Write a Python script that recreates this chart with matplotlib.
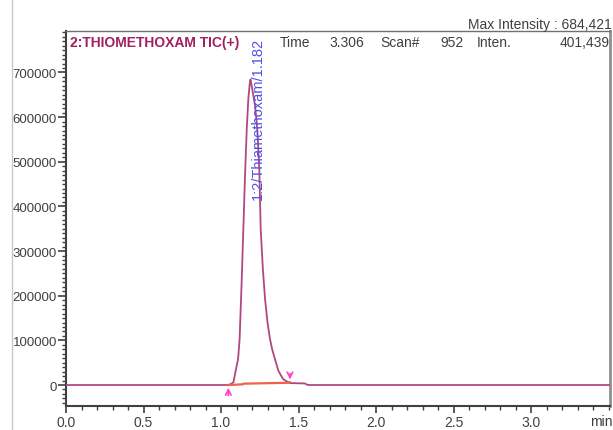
import numpy as np
import matplotlib.pyplot as plt
from matplotlib.lines import Line2D
from matplotlib.ticker import MultipleLocator

plt.rcParams['font.family'] = ['Liberation Sans', 'DejaVu Sans']

# chromatogram trace (min, intensity)
time_min = [0.0, 1.00, 1.045, 1.06, 1.08, 1.097, 1.11, 1.12, 1.133, 1.144, 1.155,
            1.166, 1.176, 1.185, 1.19, 1.198, 1.21, 1.22, 1.234, 1.247, 1.256,
            1.27, 1.284, 1.30, 1.316, 1.33, 1.348, 1.37, 1.40, 1.434, 1.445,
            1.48, 1.54, 1.56, 3.51]
intensity = [0, 0, 0, 1500, 6000, 36000, 58000, 103000, 230000, 349000, 470000,
             573000, 640000, 674000, 684421, 670000, 645000, 625000, 573000, 484000, 349000,
             260000, 193000, 140000, 103000, 80000, 58000, 32000, 13400, 6000, 4500,
             4000, 3500, 0, 0]

# integration baseline and peak marks
base_t = [1.047, 1.14, 1.145, 1.43, 1.445]
base_i = [0, 1500, 3000, 5000, 6000]
peak_start = 1.047
peak_end = 1.445
peak_label = "1:2/Thiamethoxam/1.182"

fig = plt.figure(figsize=(6.13, 4.31), dpi=100)
ax = fig.add_axes([0.1077, 0.0557, 0.8875, 0.8712])

ax.plot(time_min, intensity, color='#b04880', lw=1.3, zorder=3)
ax.plot(base_t, base_i, color='#f0604a', lw=1.6, zorder=4)

ax.annotate('', xy=(peak_start, 0), xytext=(peak_start, -30000),
            arrowprops=dict(arrowstyle='->', color='#ff40c8', lw=1.2), zorder=5)
ax.annotate('', xy=(peak_end, 6000), xytext=(peak_end, 32000),
            arrowprops=dict(arrowstyle='->', color='#ff40c8', lw=1.2), zorder=5)

ax.text(1.235, 0.983, peak_label, rotation=90, ha='center', va='top',
        transform=ax.get_xaxis_transform(), color='#5050e8', fontsize=10.5)

ax.set_xlim(0, 3.51)
ax.set_ylim(-47000, 794000)
ax.xaxis.set_major_locator(MultipleLocator(0.5))
ax.xaxis.set_minor_locator(MultipleLocator(0.1))
ax.yaxis.set_major_locator(MultipleLocator(100000))
ax.yaxis.set_minor_locator(MultipleLocator(10000))
ax.set_xticks([0, 0.5, 1.0, 1.5, 2.0, 2.5, 3.0])
ax.set_xticklabels(['0.0', '0.5', '1.0', '1.5', '2.0', '2.5', '3.0'])
ax.set_yticks(np.arange(0, 700001, 100000))
ax.set_yticklabels([str(v) for v in range(0, 700001, 100000)])

ax.tick_params(axis='y', which='major', length=6, width=1.2, color='#404040',
               labelsize=9.5, labelcolor='#404040', pad=0.5)
ax.tick_params(axis='x', which='major', length=5, width=1.2, color='#404040',
               labelsize=10, labelcolor='#404040', pad=1.5)
ax.tick_params(which='minor', length=3, width=1.0, color='#404040')

for side in ['left', 'bottom']:
    ax.spines[side].set_color('#404040')
    ax.spines[side].set_linewidth(1.5)
ax.spines['top'].set_color('#707070')
ax.spines['top'].set_linewidth(1.0)
ax.spines['right'].set_color('#909090')
ax.spines['right'].set_linewidth(2.0)

# header inside plot
hdr_y = 0.969
ax.text(0.007, hdr_y, "2:THIOMETHOXAM TIC(+)", transform=ax.transAxes,
        color='#a02060', fontsize=10, fontweight='bold', va='center')
for xpos, s, ha in [(0.393, 'Time', 'left'), (0.485, '3.306', 'left'),
                    (0.577, 'Scan#', 'left'), (0.6875, '952', 'left'),
                    (0.755, 'Inten.', 'left'), (0.999, '401,439', 'right')]:
    ax.text(xpos, hdr_y, s, transform=ax.transAxes, color='#404040',
            fontsize=10, va='center', ha=ha)

fig.text(0.998, 0.942, "Max Intensity : 684,421", ha='right', va='center',
         color='#404040', fontsize=10)
ax.text(1.004, -0.04, "min", transform=ax.transAxes, ha='right', va='center',
        color='#404040', fontsize=10)

fig.add_artist(Line2D([0.02, 0.02], [0, 1], color='#c8c8c8', lw=1))

fig.savefig('out.png', dpi=100)
